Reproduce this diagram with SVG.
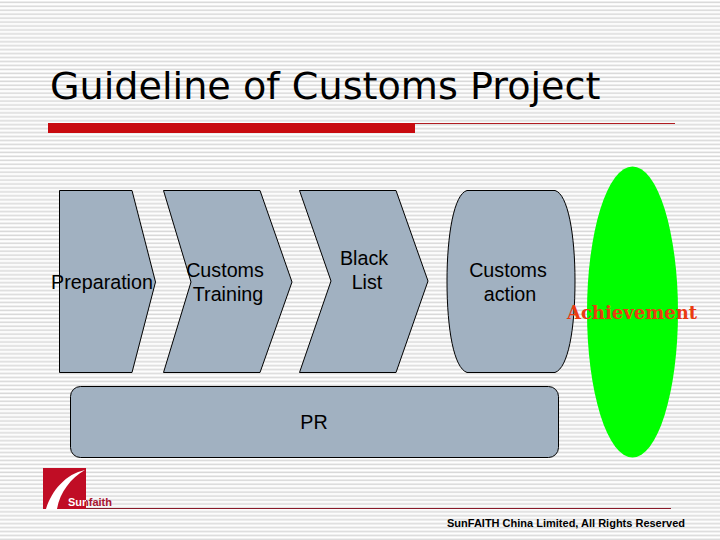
<svg xmlns="http://www.w3.org/2000/svg" width="720" height="540" viewBox="0 0 720 540">
<style>
.shape{fill:#a1b1c1;stroke:#000;stroke-width:1}
.t{font-family:"Liberation Sans",Arial,sans-serif;font-size:19.7px;fill:#000;text-anchor:middle}
</style>
<defs>
<pattern id="stripes" width="8" height="3.95" patternUnits="userSpaceOnUse">
<rect width="8" height="3.95" fill="#fff"/>
<rect y="1.5" width="8" height="1.6" fill="#d9d9d9"/>
</pattern>
<linearGradient id="logoText" gradientUnits="userSpaceOnUse" x1="68" y1="0" x2="112" y2="0">
<stop offset="0.41" stop-color="#fff"/>
<stop offset="0.41" stop-color="#a81830"/>
</linearGradient>
</defs>
<rect id="background" width="720" height="540" fill="url(#stripes)"/>
<g id="title">
<text x="50" y="99" style="font-family:'DejaVu Sans',sans-serif;font-size:38.15px;fill:#000">Guideline of Customs Project</text>
<rect x="48" y="123" width="367" height="10" fill="#c80a0f"/>
<rect x="415" y="123" width="260" height="1" fill="#b01c22"/>
</g>
<g id="preparation">
<path class="shape" d="M59.500 190.500H132L155.500 282L132 372.500H59.500Z"/>
<text class="t" x="102" y="289">Preparation</text>
</g>
<g id="customs-training">
<path class="shape" d="M163.500 190.500H260L292 282L260 372.500H163.500L191 282Z"/>
<text class="t" x="225" y="277">Customs</text>
<text class="t" x="228" y="301">Training</text>
</g>
<g id="black-list">
<path class="shape" d="M299.500 190.500H396L428 281L396 372.500H299.500L331 281Z"/>
<text class="t" x="364" y="265">Black</text>
<text class="t" x="367" y="289">List</text>
</g>
<g id="customs-action">
<path class="shape" d="M467 190.500H555C568 194 575 235 575 281C575 330 568 368 555 372.500H467C454 368 447 330 447 281C447 235 454 194 467 190.500Z"/>
<text class="t" x="508" y="277">Customs</text>
<text class="t" x="510" y="301">action</text>
</g>
<g id="pr">
<rect class="shape" x="70.500" y="386.500" width="488" height="71" rx="10" ry="10"/>
<text class="t" x="314" y="429">PR</text>
</g>
<g id="achievement">
<ellipse cx="632.500" cy="312" rx="45.500" ry="145.500" fill="#00ff00"/>
<text x="632" y="319" text-anchor="middle" style="font-family:'DejaVu Serif',serif;font-size:18px;font-weight:bold;fill:#ea3b10">Achievement</text>
</g>
<g id="footer">
<rect x="85" y="508" width="586" height="1" fill="#8a1a2a"/>
<rect x="43" y="468" width="43" height="41" fill="#c00d25"/>
<path d="M46 509C52 490 66 474 85 470C71 478 60 492 57 509Z" fill="#fff"/>
<text x="68" y="506" fill="url(#logoText)" style="font-family:'Liberation Sans',sans-serif;font-size:11px;font-weight:bold">Sunfaith</text>
<text x="566" y="527" text-anchor="middle" style="font-family:'Liberation Sans',sans-serif;font-size:11px;font-weight:bold;fill:#000">SunFAITH China Limited, All Rights Reserved</text>
</g>
</svg>
